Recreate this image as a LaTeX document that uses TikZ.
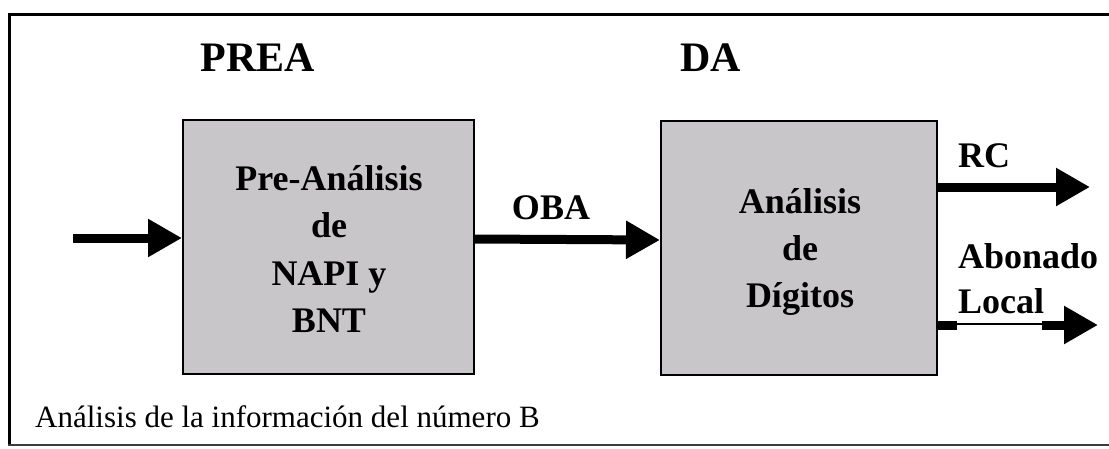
\documentclass[tikz,border=0pt]{standalone}
\usepackage{fontspec}
\setmainfont{Liberation Serif}
\usetikzlibrary{arrows.meta}
\definecolor{boxgray}{RGB}{200,198,201}
\definecolor{framegray}{RGB}{60,60,60}
\tikzset{
  blockbox/.style={draw=black, line width=2pt, fill=boxgray, inner sep=0pt},
  boldlbl/.style={inner sep=0pt, font=\bfseries\fontsize{36}{40}\selectfont},
  titlelbl/.style={inner sep=0pt, font=\bfseries\fontsize{42}{46}\selectfont},
  notelbl/.style={inner sep=0pt, font=\fontsize{31}{34}\selectfont},
  flow/.style={line width=9pt, -{Triangle[length=34pt 0, width=36pt 0]}},
}
\begin{document}
\begin{tikzpicture}[x=1pt,y=-1pt]
\useasboundingbox (0,0) rectangle (1109,448);
% frame
\draw[line width=3pt] (1120,14) -- (9.5,14) -- (9.5,445);
\draw[line width=2pt, framegray] (8,445) -- (1120,445);
% blocks
\node[blockbox, minimum width=291pt, minimum height=254pt] (b1) at (328.5,247) {};
\node[blockbox, minimum width=276pt, minimum height=254pt] (b2) at (799,248) {};
% titles
\node[titlelbl, anchor=base] (prea) at (258,71) {PREA};
\node[titlelbl, anchor=base] (da) at (710.5,71) {DA};
% block 1 text
\node[boldlbl, anchor=base] (t11) at (329,190) {Pre-Análisis};
\node[boldlbl, anchor=base] (t12) at (329,237) {de};
\node[boldlbl, anchor=base] (t13) at (329,285) {NAPI y};
\node[boldlbl, anchor=base] (t14) at (329,332) {BNT};
% block 2 text
\node[boldlbl, anchor=base] (t21) at (800,213) {Análisis};
\node[boldlbl, anchor=base] (t22) at (800,260) {de};
\node[boldlbl, anchor=base] (t23) at (800,307) {Dígitos};
% connectors
\coordinate (inS) at (73,238);
\coordinate (rcE) at (1090,187);
\coordinate (locE) at (1098,325);
\draw[flow] (inS) -- (inS -| b1.west);
\draw[flow] ([yshift=8pt]b1.east) -- ([yshift=8pt]b2.west);
\draw[flow] ([yshift=61pt]b2.east) -- (rcE);
\draw[flow] ([yshift=-77pt]b2.east) -- (locE);
% gap under "Local" with its underline
\fill[white] (957,320) rectangle (1042,330);
\draw[line width=2.5pt] (957,324) -- (1042,324);
% labels
\node[boldlbl, anchor=base] (oba) at (551,219) {OBA};
\node[boldlbl, anchor=base west] (rc) at (958,167) {RC};
\node[boldlbl, anchor=base west] (abo) at (958,268) {Abonado};
\node[boldlbl, anchor=base west] (loc) at (958,313) {Local};
\node[notelbl, anchor=base west] (note) at (35,427) {Análisis de la información del número B};
\end{tikzpicture}
\end{document}
